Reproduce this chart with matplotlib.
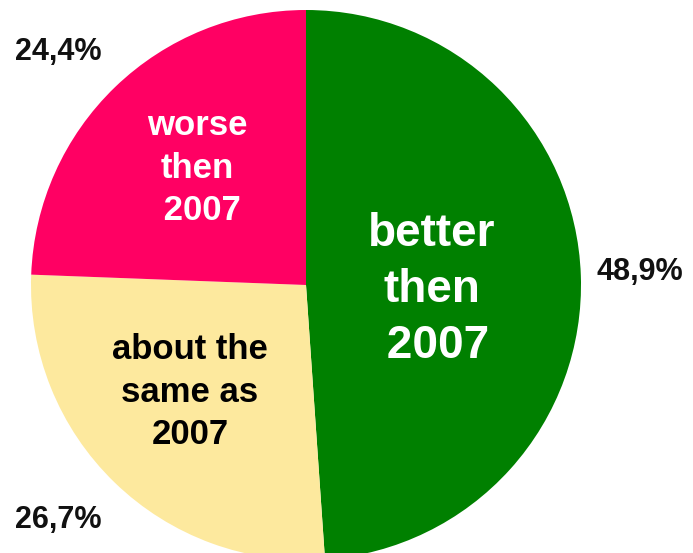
import matplotlib.pyplot as plt

labels = ["better\nthen\n 2007", "about the\nsame as\n2007", "worse\nthen\n 2007"]
shares = [48.9, 26.7, 24.4]
pct_labels = ["48,9%", "26,7%", "24,4%"]
colors = ["#008000", "#FDE99E", "#FF0063"]

plt.rcParams['font.family'] = ['Liberation Sans', 'DejaVu Sans']

fig = plt.figure(figsize=(6.93, 5.53), dpi=100)
ax = fig.add_axes([0, 0, 1, 1])

ax.pie(shares, colors=colors, startangle=90, counterclock=False,
       center=(306, 268), radius=275, frame=True,
       wedgeprops=dict(linewidth=0))
ax.set_xlim(0, 693)
ax.set_ylim(0, 553)
ax.set_aspect("auto")
ax.axis("off")

# labels inside slices
ax.text(432, 263, labels[0], color="white", fontsize=33, fontweight="bold",
        ha="center", va="center", linespacing=1.36)
ax.text(190, 161, labels[1], color="black", fontsize=25, fontweight="bold",
        ha="center", va="center", linespacing=1.36)
ax.text(197, 385, labels[2], color="white", fontsize=25, fontweight="bold",
        ha="center", va="center", linespacing=1.36)

# percentages outside
ax.text(640, 281, pct_labels[0], fontsize=22, fontweight="bold", ha="center", va="center", color="#111111")
ax.text(58, 33, pct_labels[1], fontsize=22, fontweight="bold", ha="center", va="center", color="#111111")
ax.text(58, 501, pct_labels[2], fontsize=22, fontweight="bold", ha="center", va="center", color="#111111")

fig.savefig("out.png", dpi=100)
